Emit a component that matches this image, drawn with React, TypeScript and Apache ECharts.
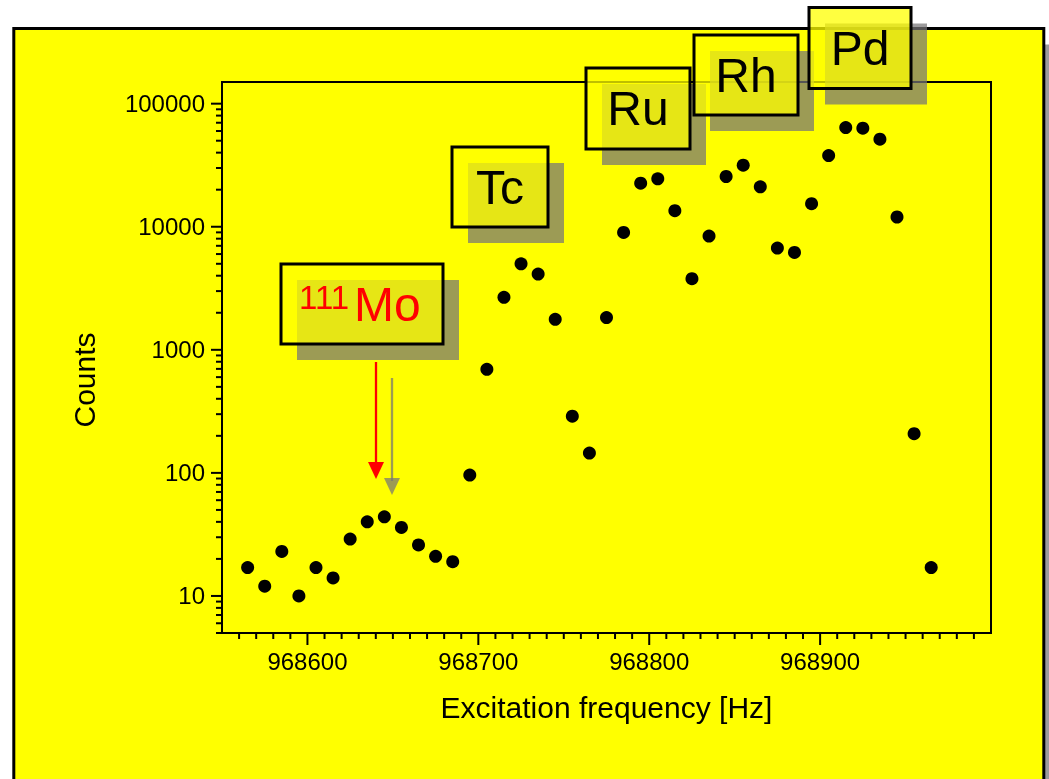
import React, { useEffect, useRef } from 'react';
import * as echarts from 'echarts';

// ---- data ----
const frequencies = [
  968565, 968575, 968585, 968595, 968605, 968615, 968625, 968635, 968645, 968655,
  968665, 968675, 968685, 968695, 968705, 968715, 968725, 968735, 968745, 968755,
  968765, 968775, 968785, 968795, 968805, 968815, 968825, 968835, 968845, 968855,
  968865, 968875, 968885, 968895, 968905, 968915, 968925, 968935, 968945, 968955,
  968965,
];
const counts = [
  17, 12, 23, 10, 17, 14, 29, 40, 44, 36,
  26, 21, 19, 96, 695, 2670, 5000, 4130, 1770, 289,
  145, 1830, 8980, 22600, 24500, 13500, 3780, 8400, 25600, 31600,
  21100, 6710, 6180, 15400, 37900, 63900, 63200, 51400, 12000, 208,
  17,
];
const xMajorTicks = [968600, 968700, 968800, 968900];
const xMinorTicks = [
  968560, 968570, 968580, 968590, 968610, 968620, 968630, 968640, 968650, 968660,
  968670, 968680, 968690, 968710, 968720, 968730, 968740, 968750, 968760, 968770,
  968780, 968790, 968810, 968820, 968830, 968840, 968850, 968860, 968870, 968880,
  968890, 968910, 968920, 968930, 968940, 968950, 968960, 968970, 968980, 968990,
];
const yMajorTicks = [10, 100, 1000, 10000, 100000];
const yMinorTicks = [
  5, 6, 7, 8, 9,
  20, 30, 40, 50, 60, 70, 80, 90,
  200, 300, 400, 500, 600, 700, 800, 900,
  2000, 3000, 4000, 5000, 6000, 7000, 8000, 9000,
  20000, 30000, 40000, 50000, 60000, 70000, 80000, 90000,
];
const elementLabels = ['Tc', 'Ru', 'Rh', 'Pd'];

const X_MIN = 968550;
const X_MAX = 969000;
const Y_MIN = 5;
const Y_MAX = 150000;

const FONT = 'Liberation Sans, Arial, Helvetica, sans-serif';
const SHADOW = 'rgba(118,116,118,0.72)';
const BOX_FILL = 'rgba(255,255,0,0.75)';
const OFF = 16;

const boxLayout = [
  { x: 452, y: 147, w: 96, h: 80 },
  { x: 586, y: 68, w: 104, h: 81 },
  { x: 694, y: 35, w: 104, h: 80 },
  { x: 809, y: 7.5, w: 102, h: 81 },
];

function buildGraphics() {
  const els: any[] = [];
  // outer frame with drop shadow
  els.push({
    type: 'rect', z: -20, silent: true,
    shape: { x: 13.8 + OFF, y: 28.5 + OFF, width: 1030, height: 800 },
    style: { fill: SHADOW },
  });
  els.push({
    type: 'rect', z: -19, silent: true,
    shape: { x: 13.8, y: 28.5, width: 1030, height: 800 },
    style: { fill: '#ffff00', stroke: '#000', lineWidth: 3 },
  });
  // "Counts" axis title
  els.push({
    type: 'text', z: 5, x: 84, y: 380, rotation: Math.PI / 2,
    style: { text: 'Counts', font: `30px ${FONT}`, fill: '#000', align: 'center', verticalAlign: 'middle' },
  });

  // element boxes
  elementLabels.forEach((lab, i) => {
    const b = boxLayout[i];
    els.push({ type: 'rect', z: 10, silent: true, shape: { x: b.x + OFF, y: b.y + OFF, width: b.w, height: b.h }, style: { fill: SHADOW } });
    els.push({ type: 'rect', z: 12, silent: true, shape: { x: b.x, y: b.y, width: b.w, height: b.h }, style: { fill: BOX_FILL, stroke: '#000', lineWidth: 3 } });
    els.push({ type: 'text', z: 13, x: b.x + b.w / 2, y: b.y + b.h / 2, style: { text: lab, font: `48px ${FONT}`, fill: '#000', align: 'center', verticalAlign: 'middle' } });
  });

  // 111Mo box
  const m = { x: 281, y: 264, w: 162, h: 80 };
  const supX = 299, supY = 297, moX = 354, moY = 304;
  els.push({ type: 'rect', z: 10, silent: true, shape: { x: m.x + OFF, y: m.y + OFF, width: m.w, height: m.h }, style: { fill: SHADOW } });
  els.push({ type: 'rect', z: 12, silent: true, shape: { x: m.x, y: m.y, width: m.w, height: m.h }, style: { fill: BOX_FILL, stroke: '#000', lineWidth: 3 } });
  els.push({ type: 'text', z: 13, x: supX, y: supY, style: { text: '111', font: `33px ${FONT}`, fill: '#ff0000', align: 'left', verticalAlign: 'middle' } });
  els.push({ type: 'text', z: 13, x: moX, y: moY, style: { text: 'Mo', font: `48px ${FONT}`, fill: '#ff0000', align: 'left', verticalAlign: 'middle' } });

  // arrows (shadow then red)
  const ax = 376, ay1 = 362, ay2 = 479;
  els.push({ type: 'line', z: 10, silent: true, shape: { x1: ax + OFF, y1: ay1 + OFF, x2: ax + OFF, y2: ay2 + OFF - 14 }, style: { stroke: SHADOW, lineWidth: 2.3 } });
  els.push({ type: 'polygon', z: 10, silent: true, shape: { points: [[ax + OFF - 8, ay2 + OFF - 17], [ax + OFF + 8, ay2 + OFF - 17], [ax + OFF, ay2 + OFF]] }, style: { fill: SHADOW } });
  els.push({ type: 'line', z: 13, silent: true, shape: { x1: ax, y1: ay1, x2: ax, y2: ay2 - 14 }, style: { stroke: '#ff0000', lineWidth: 2.3 } });
  els.push({ type: 'polygon', z: 13, silent: true, shape: { points: [[ax - 8, ay2 - 17], [ax + 8, ay2 - 17], [ax, ay2]] }, style: { fill: '#ff0000' } });
  return els;
}

export default function App() {
  const ref = useRef<HTMLDivElement>(null);
  useEffect(() => {
    const chart = echarts.init(ref.current as HTMLDivElement, null, { renderer: 'svg' });
    const xTickData = [
      ...xMajorTicks.map((v) => [v, Y_MIN, 12]),
      ...xMinorTicks.map((v) => [v, Y_MIN, 6]),
    ];
    const yTickData = [
      ...yMajorTicks.map((v) => [X_MIN, v, 11]),
      ...yMinorTicks.map((v) => [X_MIN, v, 6]),
    ];
    const option: any = {
      animation: false,
      grid: {
        left: 222, top: 82, right: 58, bottom: 146,
        show: true, borderColor: '#000', borderWidth: 2, backgroundColor: 'transparent',
      },
      xAxis: {
        type: 'value', min: X_MIN, max: X_MAX,
        name: 'Excitation frequency [Hz]', nameLocation: 'middle', nameGap: 59,
        nameTextStyle: { fontFamily: FONT, fontSize: 30, color: '#000' },
        axisLine: { show: true, lineStyle: { color: '#000', width: 2 } },
        axisTick: { show: false },
        splitLine: { show: false },
        axisLabel: {
          show: true, margin: 16, color: '#000', fontFamily: FONT, fontSize: 24,
          showMinLabel: false, showMaxLabel: false,
          formatter: (v: number) => (xMajorTicks.indexOf(Math.round(v)) >= 0 ? String(Math.round(v)) : ''),
        },
      },
      yAxis: {
        type: 'log', logBase: 10, min: Y_MIN, max: Y_MAX,
        axisLine: { show: true, lineStyle: { color: '#000', width: 2 } },
        axisTick: { show: false },
        splitLine: { show: false },
        minorTick: { show: false },
        axisLabel: {
          show: true, margin: 17, color: '#000', fontFamily: FONT, fontSize: 24,
          showMinLabel: false, showMaxLabel: false,
          formatter: (v: number) => (yMajorTicks.indexOf(Math.round(v)) >= 0 ? String(Math.round(v)) : ''),
        },
      },
      graphic: { elements: buildGraphics() },
      series: [
        {
          type: 'custom', name: 'xticks', silent: true, clip: false, z: 3,
          data: xTickData,
          renderItem: (_p: any, api: any) => {
            const pt = api.coord([api.value(0), api.value(1)]);
            return { type: 'line', shape: { x1: pt[0], y1: pt[1], x2: pt[0], y2: pt[1] + api.value(2) }, style: { stroke: '#000', lineWidth: 2 } };
          },
        },
        {
          type: 'custom', name: 'yticks', silent: true, clip: false, z: 3,
          data: yTickData,
          renderItem: (_p: any, api: any) => {
            const pt = api.coord([api.value(0), api.value(1)]);
            return { type: 'line', shape: { x1: pt[0] - api.value(2), y1: pt[1], x2: pt[0], y2: pt[1] }, style: { stroke: '#000', lineWidth: 2 } };
          },
        },
        {
          type: 'scatter', name: 'Counts', symbol: 'circle', symbolSize: 13,
          itemStyle: { color: '#000', opacity: 1 },
          data: frequencies.map((f, i) => [f, counts[i]]),
          z: 4,
        },
      ],
    };
    chart.setOption(option);
    return () => chart.dispose();
  }, []);
  return <div ref={ref} style={{ position: 'fixed', left: 0, top: 0, width: 1049, height: 779 }} />;
}
